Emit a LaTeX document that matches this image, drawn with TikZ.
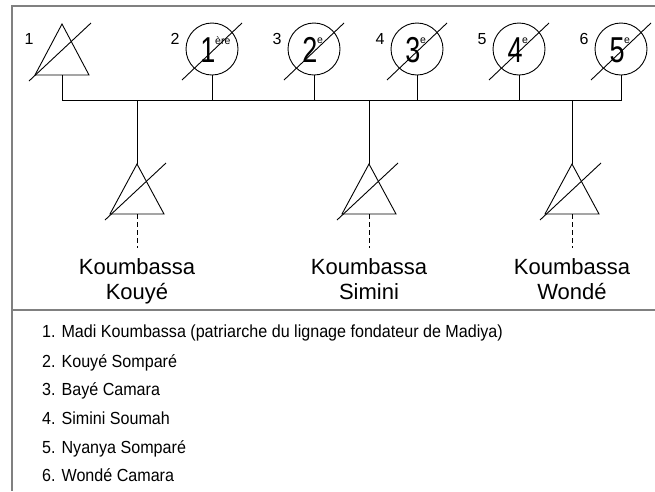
\documentclass[tikz,border=0pt]{standalone}
\usepackage{fontspec}
\setmainfont{Liberation Sans}
\usetikzlibrary{calc}
\newcommand{\nardigit}[1]{\scalebox{0.75}[1]{\fontsize{36}{36}\selectfont #1}}
\newcommand{\legtext}[1]{\scalebox{0.92}[1]{#1}}
\tikzset{
  frameline/.style={draw=black!50, line width=2.5pt},
  kin/.style={draw=black, line width=0.9pt},
  cross/.style={draw=black, line width=0.9pt},
  descent/.style={draw=black, line width=0.9pt, dash pattern=on 5pt off 3pt},
  person/.style={circle, draw=black, line width=0.9pt, minimum size=52pt, inner sep=0pt},
  numlabel/.style={font=\fontsize{16}{16}\selectfont, inner sep=0pt},
  namelabel/.style={font=\fontsize{22}{25}\selectfont, align=center, inner sep=0pt},
  legend/.style={font=\fontsize{17.5}{17.5}\selectfont, anchor=base west, inner sep=0pt},
  sup/.style={font=\fontsize{10.5}{10.5}\selectfont, inner sep=0pt}
}
\begin{document}
\begin{tikzpicture}[x=1pt,y=-1pt]
\useasboundingbox (0,0) rectangle (655,491);
% frame
\draw[frameline] (655,6) -- (12,6) -- (12,491);
\draw[frameline] (12,310) -- (655,310);

% person 1 (triangle)
\coordinate (t1) at (62,24);
\coordinate (t1l) at (35,75);
\coordinate (t1r) at (89,75);
\coordinate (t1b) at (62,75);
\draw[kin] (t1) -- (t1l) -- (t1r) -- cycle;
\draw[cross] (29,81) -- (91,23);
\node[numlabel] (n1) at (29,39) {1};

% persons 2-6 (circles)
\foreach \i/\x/\d/\s in {2/212/1/ère, 3/314/2/e, 4/417/3/e, 5/519/4/e, 6/621/5/e}{
  \node[person] (c\i) at (\x,49) {};
  \node[inner sep=0pt] (d\i) at (\x-4,50) {\nardigit{\d}};
  \node[sup, anchor=west] (s\i) at (\x+3,41) {\s};
  \draw[cross] (\x-30,80) -- (\x+30,23);
  \node[numlabel] (n\i) at (\x-37,39) {\i};
}

% bus
\coordinate (b1) at (62,100);
\coordinate (b6) at (621,100);
\draw[kin] (t1b) -- (b1) -- (b6) -- (c6.south);
\foreach \i in {2,3,4,5}{
  \draw[kin] (c\i.south) -- (c\i.south |- b1);
}

% children
\foreach \k/\x/\name in {a/137/Kouyé, b/369/Simini, c/572/Wondé}{
  \coordinate (top\k) at (\x,100);
  \coordinate (ap\k) at (\x,164);
  \coordinate (bl\k) at (\x-27,214);
  \coordinate (br\k) at (\x+27,214);
  \coordinate (bb\k) at (\x,214);
  \coordinate (de\k) at (\x,248);
  \draw[kin] (top\k) -- (ap\k);
  \draw[kin] (ap\k) -- (bl\k) -- (br\k) -- cycle;
  \draw[cross] (\x-32,220) -- (\x+29,163);
  \draw[descent] (bb\k) -- (de\k);
  \node[namelabel, anchor=north] (lab\k) at (\x,258) {Koumbassa\\\name};
}

% legend
\node[legend] (l1) at (42,337) {\legtext{1. Madi Koumbassa (patriarche du lignage fondateur de Madiya)}};
\node[legend] (l2) at (42,367) {\legtext{2. Kouyé Somparé}};
\node[legend] (l3) at (42,395) {\legtext{3. Bayé Camara}};
\node[legend] (l4) at (42,424) {\legtext{4. Simini Soumah}};
\node[legend] (l5) at (42,453) {\legtext{5. Nyanya Somparé}};
\node[legend] (l6) at (42,481) {\legtext{6. Wondé Camara}};
\end{tikzpicture}
\end{document}
